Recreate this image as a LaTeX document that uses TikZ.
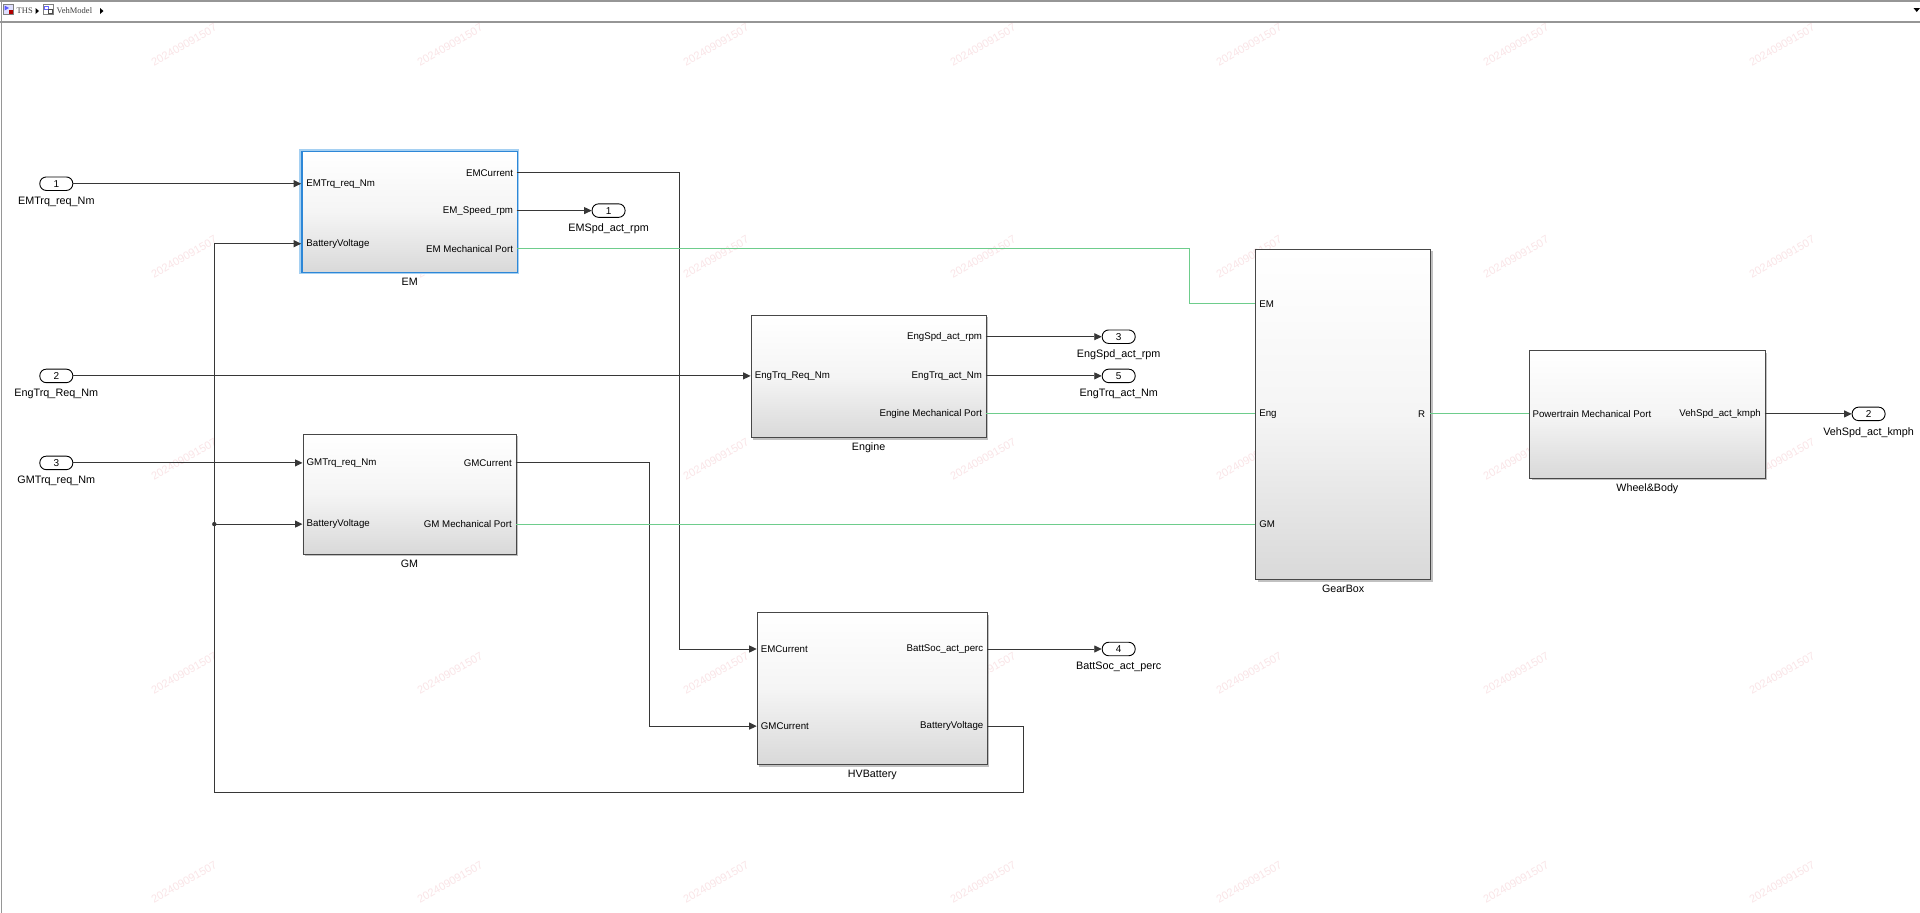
\documentclass[tikz,border=0pt]{standalone}
\usepackage{fontspec}
\setmainfont{Liberation Sans}
\newfontfamily\crumbfont{Liberation Serif}
\usetikzlibrary{arrows.meta,shadows}
\definecolor{mechgreen}{RGB}{110,205,140}
\definecolor{selblue}{RGB}{45,135,215}
\definecolor{selglow}{RGB}{165,208,242}
\definecolor{wmred}{RGB}{235,150,160}
\definecolor{framegray}{RGB}{150,150,150}
\definecolor{linegray}{RGB}{55,55,55}
\begin{document}
\begin{tikzpicture}[x=1pt,y=-1pt,
  blkbase/.style={anchor=north west, inner sep=0pt, top color=white, bottom color=black!15, middle color=black!4},
  blk/.style={blkbase, draw=black!72, line width=0.9pt, drop shadow={shadow xshift=2pt,shadow yshift=-2pt,fill=black!40,opacity=0.6}},
  selblk/.style={blkbase, draw=selblue, line width=1.4pt},
  io/.style={draw=black, line width=0.9pt, fill=white, rounded corners=6.5pt, minimum width=33pt, minimum height=13.5pt, inner sep=0pt, font=\fontsize{10}{10}\selectfont},
  plbl/.style={font=\fontsize{9.7}{10}\selectfont, inner sep=0pt},
  xlbl/.style={font=\fontsize{10.8}{12}\selectfont, inner sep=0pt, anchor=north, yshift=-6pt},
  nlbl/.style={font=\fontsize{10.7}{12}\selectfont, inner sep=0pt, anchor=north, yshift=-5pt},
  sig/.style={draw=linegray, line width=0.9pt},
  arr/.style={-{Triangle[length=7.5pt,width=7pt]}},
  mech/.style={draw=mechgreen, line width=0.9pt},
  wm/.style={rotate=30, text=wmred, opacity=0.25, font=\fontsize{11}{11}\selectfont, inner sep=0pt},
  crumb/.style={font=\crumbfont\fontsize{8.5}{9}\selectfont, text=black!75, inner sep=0pt, anchor=west}
]
\useasboundingbox (0,0) rectangle (1920,913);
\fill[white] (0,0) rectangle (1920,913);

% watermarks
\foreach \i/\x in {1/184,2/450,3/716,4/983,5/1249,6/1516,7/1782}{
  \foreach \j/\y in {1/45,2/257,3/459,4/673,5/882}{
    \node[wm] (wm-\i-\j) at (\x,\y) {202409091507};
  }
}

% frame and breadcrumb bar
\draw[framegray, line width=1.5pt] (0,0.75) -- (1920,0.75);
\draw[framegray, line width=2pt] (0,22) -- (1920,22);
\draw[framegray, line width=1pt] (1,0) -- (1,913);
\draw[black!50, fill=blue!12, line width=0.5pt] (3,4) rectangle (13,14);
\fill[blue!65] (4.5,5.5) -- (9,8) -- (4.5,10.5) -- cycle;
\fill[red!70!black] (8.5,9.5) rectangle (12.5,13.5);
\node[crumb] (ths) at (16.5,11) {THS};
\fill[black] (35.5,8) -- (39,11) -- (35.5,14) -- cycle;
\draw[black!50, fill=white, line width=0.5pt] (43,4) rectangle (53,14);
\draw[blue!60, line width=0.6pt] (44.5,6) rectangle (48,9);
\draw[black!70, line width=0.6pt] (48.5,9.5) rectangle (52,13);
\node[crumb] (vm) at (56.5,11) {VehModel};
\fill[black] (100,8) -- (103.5,11) -- (100,14) -- cycle;
\fill[black] (1913.5,8) -- (1920,8) -- (1916.75,12) -- cycle;

% blocks
\draw[selglow, line width=4pt] (301.2,150.6) rectangle (516.7,271.8);
\node[selblk, minimum width=215.5pt, minimum height=121.2pt] (em) at (301.2,150.6) {};
\node[blk, minimum width=213pt, minimum height=120pt] (gm) at (302.5,433.5) {};
\node[blk, minimum width=235.1pt, minimum height=122.4pt] (eng) at (750.6,314.7) {};
\node[blk, minimum width=230.3pt, minimum height=151.8pt] (hv) at (756.7,612.3) {};
\node[blk, minimum width=175.1pt, minimum height=330.6pt] (gb) at (1255.1,248.6) {};
\node[blk, minimum width=235.1pt, minimum height=127.4pt] (wb) at (1529.4,350.2) {};

\node[nlbl] (em-n) at (em.south) {EM};
\node[nlbl] (gm-n) at (gm.south) {GM};
\node[nlbl] (eng-n) at (eng.south) {Engine};
\node[nlbl] (hv-n) at (hv.south) {HVBattery};
\node[nlbl] (gb-n) at (gb.south) {GearBox};
\node[nlbl] (wb-n) at (wb.south) {Wheel\&Body};

% port coordinates
\coordinate (em-i1) at (301.2,183.7);
\coordinate (em-i2) at (301.2,243.7);
\coordinate (em-o1) at (516.7,172.7);
\coordinate (em-o2) at (516.7,210.6);
\coordinate (em-o3) at (516.7,248.6);
\coordinate (eng-i1) at (750.6,375.9);
\coordinate (eng-o1) at (985.7,336.7);
\coordinate (eng-o2) at (985.7,375.9);
\coordinate (eng-o3) at (985.7,413.9);
\coordinate (gm-i1) at (302.5,462.9);
\coordinate (gm-i2) at (302.5,524.1);
\coordinate (gm-o1) at (515.5,462.9);
\coordinate (gm-o2) at (515.5,524.1);
\coordinate (hv-i1) at (756.7,649);
\coordinate (hv-i2) at (756.7,726.1);
\coordinate (hv-o1) at (987,649);
\coordinate (hv-o2) at (987,726.1);
\coordinate (gb-em) at (1255.1,303.7);
\coordinate (gb-eng) at (1255.1,413.9);
\coordinate (gb-gm) at (1255.1,524.1);
\coordinate (gb-r) at (1430.2,413.9);
\coordinate (wb-i) at (1529.4,413.9);
\coordinate (wb-o) at (1764.5,413.9);
\coordinate (junc) at (214.3,524.1);

% port labels
\node[plbl, anchor=west, xshift=5pt] (em-i1-l) at (em-i1) {EMTrq\_req\_Nm};
\node[plbl, anchor=west, xshift=5pt] (em-i2-l) at (em-i2) {BatteryVoltage};
\node[plbl, anchor=east, xshift=-3.5pt] (em-o1-l) at (em-o1) {EMCurrent};
\node[plbl, anchor=east, xshift=-3.5pt] (em-o2-l) at (em-o2) {EM\_Speed\_rpm};
\node[plbl, anchor=east, xshift=-3.5pt] (em-o3-l) at (em-o3) {EM Mechanical Port};
\node[plbl, anchor=west, xshift=4pt] (eng-i1-l) at (eng-i1) {EngTrq\_Req\_Nm};
\node[plbl, anchor=east, xshift=-3.5pt] (eng-o1-l) at (eng-o1) {EngSpd\_act\_rpm};
\node[plbl, anchor=east, xshift=-3.5pt] (eng-o2-l) at (eng-o2) {EngTrq\_act\_Nm};
\node[plbl, anchor=east, xshift=-3.5pt] (eng-o3-l) at (eng-o3) {Engine Mechanical Port};
\node[plbl, anchor=west, xshift=4pt] (gm-i1-l) at (gm-i1) {GMTrq\_req\_Nm};
\node[plbl, anchor=west, xshift=4pt] (gm-i2-l) at (gm-i2) {BatteryVoltage};
\node[plbl, anchor=east, xshift=-3.5pt] (gm-o1-l) at (gm-o1) {GMCurrent};
\node[plbl, anchor=east, xshift=-3.5pt] (gm-o2-l) at (gm-o2) {GM Mechanical Port};
\node[plbl, anchor=west, xshift=4pt] (hv-i1-l) at (hv-i1) {EMCurrent};
\node[plbl, anchor=west, xshift=4pt] (hv-i2-l) at (hv-i2) {GMCurrent};
\node[plbl, anchor=east, xshift=-3.5pt] (hv-o1-l) at (hv-o1) {BattSoc\_act\_perc};
\node[plbl, anchor=east, xshift=-3.5pt] (hv-o2-l) at (hv-o2) {BatteryVoltage};
\node[plbl, anchor=west, xshift=4pt] (gb-em-l) at (gb-em) {EM};
\node[plbl, anchor=west, xshift=4pt] (gb-eng-l) at (gb-eng) {Eng};
\node[plbl, anchor=west, xshift=4pt] (gb-gm-l) at (gb-gm) {GM};
\node[plbl, anchor=east, xshift=-5pt] (gb-r-l) at (gb-r) {R};
\node[plbl, anchor=west, xshift=3pt] (wb-i-l) at (wb-i) {Powertrain Mechanical Port};
\node[plbl, anchor=east, xshift=-3.5pt] (wb-o-l) at (wb-o) {VehSpd\_act\_kmph};

% inports / outports
\node[io] (in1) at (56.3,183.7) {1};
\node[io] (in2) at (56.3,375.9) {2};
\node[io] (in3) at (56.3,462.9) {3};
\node[io] (out1) at (608.6,210.6) {1};
\node[io] (out3) at (1118.7,336.7) {3};
\node[io] (out5) at (1118.7,375.9) {5};
\node[io] (out4) at (1118.7,649) {4};
\node[io] (out2) at (1868.6,413.9) {2};
\node[xlbl] (in1-l) at (in1.south) {EMTrq\_req\_Nm};
\node[xlbl] (in2-l) at (in2.south) {EngTrq\_Req\_Nm};
\node[xlbl] (in3-l) at (in3.south) {GMTrq\_req\_Nm};
\node[xlbl] (out1-l) at (out1.south) {EMSpd\_act\_rpm};
\node[xlbl] (out3-l) at (out3.south) {EngSpd\_act\_rpm};
\node[xlbl] (out5-l) at (out5.south) {EngTrq\_act\_Nm};
\node[xlbl] (out4-l) at (out4.south) {BattSoc\_act\_perc};
\node[xlbl] (out2-l) at (out2.south) {VehSpd\_act\_kmph};

% signal lines
\draw[sig,arr] (in1.east) -- (em-i1);
\draw[sig,arr] (in2.east) -- (eng-i1);
\draw[sig,arr] (in3.east) -- (gm-i1);
\draw[sig,arr] (em-o1) -- (679.6,172.7) -- (679.6,649) -- (hv-i1);
\draw[sig,arr] (em-o2) -- (out1.west);
\draw[sig,arr] (eng-o1) -- (out3.west);
\draw[sig,arr] (eng-o2) -- (out5.west);
\draw[sig,arr] (gm-o1) -- (649,462.9) -- (649,726.1) -- (hv-i2);
\draw[sig,arr] (hv-o1) -- (out4.west);
\draw[sig,arr] (hv-o2) -- (1023.7,726.1) -- (1023.7,792.3) -- (214.3,792.3) -- (214.3,243.7) -- (em-i2);
\draw[sig,arr] (junc) -- (gm-i2);
\fill[linegray] (junc) circle (2.2pt);
\draw[sig,arr] (wb-o) -- (out2.west);

% mechanical connections
\draw[mech] (em-o3) -- (1189,248.6) -- (1189,303.7) -- (gb-em);
\draw[mech] (eng-o3) -- (gb-eng);
\draw[mech] (gm-o2) -- (gb-gm);
\draw[mech] (gb-r) -- (wb-i);
\end{tikzpicture}
\end{document}
